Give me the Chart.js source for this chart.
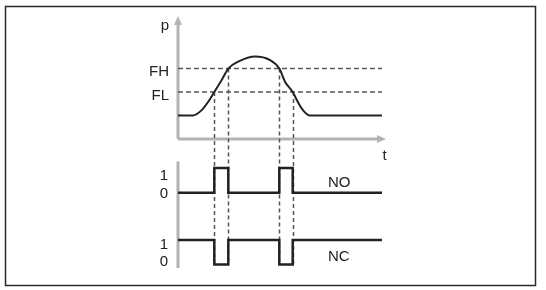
<!DOCTYPE html>
<html>
<head>
<meta charset="utf-8">
<script src="https://cdn.jsdelivr.net/npm/chart.js@4"></script>
<style>
  html, body { margin: 0; padding: 0; background: #fff; }
  #wrap { width: 546px; height: 290px; position: relative; }
</style>
</head>
<body>
<div id="wrap"><canvas id="switchChart"></canvas></div>
<script>
// pressure curve (time, p)
const curveTimes = [0, 15, 23.7, 30.3, 36.3, 43.7, 50.3, 60.3, 77, 92, 101.3, 107, 114.7, 120.3, 125.3, 132, 204];
const pressure = [1, 1, 1.23, 1.59, 2, 2.51, 3, 3.29, 3.51, 3.36, 3, 2.44, 2, 1.54, 1.21, 1, 1];

const thresholdLabels = ["FH", "FL"];
const thresholdValues = [3, 2];

// times where the curve crosses a threshold, and which one
const switchTimes = [36.3, 50.3, 101.3, 114.7];
const switchLevels = [2, 3, 3, 2];

const stateTimes = [0, 36.3, 50.3, 101.3, 114.7, 204];
const noStates = [0, 1, 0, 1, 0, 0];
const ncStates = [1, 0, 1, 0, 1, 1];
const stateTicks = ["0", "1"];

const endTime = 204;

const FONT = "15px 'Liberation Sans', Arial, sans-serif";
const INK = "#222";
const DASH = "#555";
const GREY = "#b3b3b3";

const toPoints = (xs, ys) => xs.map((x, i) => ({ x: x, y: ys[i] }));

const datasets = [
  {
    data: toPoints(curveTimes, pressure),
    yAxisID: "p",
    borderColor: INK,
    borderWidth: 2,
    cubicInterpolationMode: "monotone",
  },
];
thresholdValues.forEach((v) => {
  datasets.push({
    data: [{ x: 0, y: v }, { x: endTime, y: v }],
    yAxisID: "p",
    borderColor: DASH,
    borderWidth: 1.5,
    borderDash: [5, 3],
  });
});
datasets.push({
  data: toPoints(stateTimes, noStates),
  yAxisID: "no",
  borderColor: INK,
  borderWidth: 2.5,
  stepped: true,
});
datasets.push({
  data: toPoints(stateTimes, ncStates),
  yAxisID: "nc",
  borderColor: INK,
  borderWidth: 2.5,
  stepped: true,
});
datasets.forEach((d) => {
  d.pointRadius = 0;
  d.fill = false;
  d.clip = false;
});

const diagram = {
  id: "diagram",
  beforeDatasetsDraw(chart) {
    const { ctx, chartArea, scales } = chart;
    const x = scales.x, p = scales.p, no = scales.no, nc = scales.nc;
    const x0 = x.getPixelForValue(0);
    const yTip = p.getPixelForValue(5.23);
    const y0 = p.getPixelForValue(0);
    const xTip = x.getPixelForValue(208);

    ctx.save();
    ctx.strokeStyle = GREY;
    ctx.fillStyle = GREY;
    ctx.lineWidth = 3;
    ctx.beginPath();
    ctx.moveTo(x0, y0);
    ctx.lineTo(x0, yTip + 6);
    ctx.moveTo(x0, y0);
    ctx.lineTo(xTip - 6, y0);
    ctx.moveTo(x0, no.getPixelForValue(1.26));
    ctx.lineTo(x0, nc.getPixelForValue(nc.min));
    ctx.stroke();

    ctx.beginPath();
    ctx.moveTo(x0, yTip);
    ctx.lineTo(x0 - 4, yTip + 9);
    ctx.lineTo(x0 + 4, yTip + 9);
    ctx.closePath();
    ctx.fill();
    ctx.beginPath();
    ctx.moveTo(xTip, y0);
    ctx.lineTo(xTip - 9, y0 - 4);
    ctx.lineTo(xTip - 9, y0 + 4);
    ctx.closePath();
    ctx.fill();

    // drop lines from the threshold crossings to the NC trace
    ctx.strokeStyle = DASH;
    ctx.lineWidth = 1.5;
    ctx.setLineDash([4, 3]);
    ctx.beginPath();
    switchTimes.forEach((t, i) => {
      const px = Math.round(x.getPixelForValue(t)) + 0.5;
      ctx.moveTo(px, p.getPixelForValue(switchLevels[i]));
      ctx.lineTo(px, nc.getPixelForValue(0));
    });
    ctx.stroke();
    ctx.restore();
  },
  afterDatasetsDraw(chart) {
    const { ctx, chartArea, scales } = chart;
    const x = scales.x, p = scales.p, no = scales.no, nc = scales.nc;
    const left = chartArea.left;

    ctx.save();
    ctx.fillStyle = INK;
    ctx.font = FONT;
    ctx.textBaseline = "alphabetic";
    ctx.textAlign = "right";
    thresholdLabels.forEach((label, i) => {
      ctx.fillText(label, left - 9, p.getPixelForValue(thresholdValues[i]) + 7.5);
    });
    ctx.fillText(stateTicks[1], left - 10, no.getPixelForValue(1) + 12);
    ctx.fillText(stateTicks[0], left - 10, no.getPixelForValue(0) + 5);
    ctx.fillText(stateTicks[1], left - 10, nc.getPixelForValue(1) + 9);
    ctx.fillText(stateTicks[0], left - 10, nc.getPixelForValue(0) + 1.5);

    ctx.textAlign = "center";
    ctx.fillText("p", left - 13, p.getPixelForValue(4.65));
    ctx.fillText("t", x.getPixelForValue(206.5), p.getPixelForValue(0) + 21);

    ctx.textAlign = "left";
    ctx.fillText("NO", x.getPixelForValue(150), no.getPixelForValue(0) - 6);
    ctx.fillText("NC", x.getPixelForValue(150), nc.getPixelForValue(0) - 3.5);

    // picture frame
    ctx.strokeStyle = "#2a2a2a";
    ctx.lineWidth = 1.5;
    ctx.strokeRect(5.5, 6.5, 530, 279);
    ctx.restore();
  },
};

new Chart(document.getElementById("switchChart"), {
  type: "line",
  data: { datasets: datasets },
  options: {
    responsive: true,
    maintainAspectRatio: false,
    animation: false,
    events: [],
    layout: {
      padding: { left: 178, right: 164, top: 18, bottom: 22 },
    },
    scales: {
      x: { type: "linear", min: 0, max: endTime, display: false },
      p: { type: "linear", min: -5.49, max: 5.15, display: false },
      no: { type: "linear", min: -3.05, max: 7.07, display: false },
      nc: { type: "linear", min: -0.143, max: 10.06, display: false },
    },
    plugins: {
      legend: { display: false },
      tooltip: { enabled: false },
    },
  },
  plugins: [diagram],
});
</script>
</body>
</html>
